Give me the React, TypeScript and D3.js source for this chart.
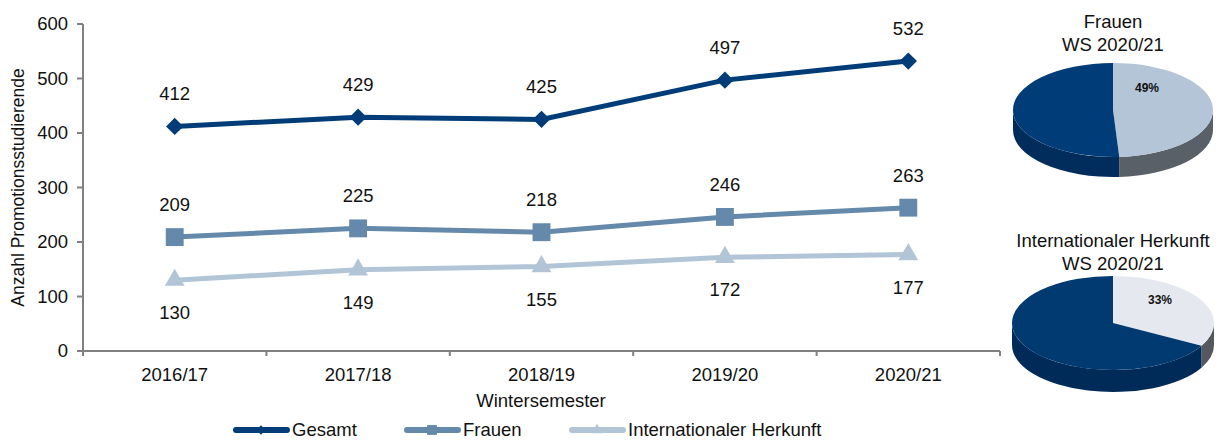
import * as d3 from "d3";

// data
const semesters = ["2016/17", "2017/18", "2018/19", "2019/20", "2020/21"];
const gesamt = [412, 429, 425, 497, 532];
const frauen = [209, 225, 218, 246, 263];
const international = [130, 149, 155, 172, 177];
const yTicks = [0, 100, 200, 300, 400, 500, 600];

const pieFrauen = [51, 49]; // rest, frauen
const pieInternational = [67, 33]; // rest, international

const FONT = "'Liberation Sans', Arial, sans-serif";
const FS = 18.5;

const x = d3.scalePoint<string>().domain(semesters).range([83, 1000]).padding(0.5);
const y = d3.scaleLinear().domain([0, 600]).range([351, 24]);
const step = x.step();

const series = [
  { name: "Gesamt", values: gesamt, color: "#003d78", marker: "diamond", labelPos: "above" },
  { name: "Frauen", values: frauen, color: "#6589aa", marker: "square", labelPos: "above" },
  { name: "Internationaler Herkunft", values: international, color: "#b2c5d6", marker: "triangle", labelPos: "below" },
];
const legendX = [233, 404, 569];

function markerPath(kind: string, scale = 1) {
  if (kind === "diamond") return d3.symbol(d3.symbolSquare, 150 * scale * scale)()!;
  if (kind === "square") return d3.symbol(d3.symbolSquare, 320 * scale * scale)()!;
  return d3.symbol(d3.symbolTriangle, 170 * scale * scale)()!;
}

function Pie3D(props: {
  cx: number; cy: number; rx: number; ry: number; depth: number;
  values: number[]; colors: string[]; sides: string[]; label: string; lx: number; ly: number;
  title: string[]; ty: number; lineGap: number;
}) {
  const { cx, cy, rx, ry, depth, values, colors, sides } = props;
  // clockwise from 12 o'clock; highlighted slice first
  const arcs = d3.pie<number>().sort(null).startAngle(0).endAngle(2 * Math.PI)([values[1], values[0]]);
  const arc = d3.arc<d3.PieArcDatum<number>>().innerRadius(0).outerRadius(rx);
  const pt = (a: number) => [cx + rx * Math.sin(a), cy - ry * Math.cos(a)];
  const sidePath = (a0: number, a1: number) => {
    const s = Math.max(a0, Math.PI / 2);
    const e = Math.min(a1, 1.5 * Math.PI);
    if (e <= s) return null;
    const [x0, y0] = pt(s);
    const [x1, y1] = pt(e);
    return `M${x0},${y0} A${rx},${ry} 0 0 1 ${x1},${y1} L${x1},${y1 + depth} A${rx},${ry} 0 0 0 ${x0},${y0 + depth} Z`;
  };
  const sideColors = [sides[1], sides[0]];
  const topColors = [colors[1], colors[0]];
  return (
    <g>
      {props.title.map((t, i) => (
        <text key={t} x={cx} y={props.ty + i * props.lineGap} textAnchor="middle" fontSize={FS} fontFamily={FONT} fill="#111">
          {t}
        </text>
      ))}
      {arcs.map((a, i) => {
        const p = sidePath(a.startAngle, a.endAngle);
        return p ? <path key={"s" + i} d={p} fill={sideColors[i]} /> : null;
      })}
      <g transform={`translate(${cx},${cy}) scale(1,${ry / rx})`}>
        {arcs.map((a, i) => (
          <path key={"t" + i} d={arc(a)!} fill={topColors[i]} />
        ))}
      </g>
      <text x={props.lx} y={props.ly} textAnchor="middle" fontSize={12} fontWeight="bold" fontFamily={FONT} fill="#111">
        {props.label}
      </text>
    </g>
  );
}

export default function App() {
  const line = d3.line<number>().x((_, i) => x(semesters[i])!).y((d) => y(d));
  const boundaries = d3.range(semesters.length + 1).map((i) => 83 + i * step);

  return (
    <svg width={1219} height={441} style={{ position: "absolute", left: 0, top: 0, background: "#fff" }}>
      {/* y axis */}
      <line x1={83} x2={83} y1={y(600)} y2={y(0)} stroke="#808080" strokeWidth={2} />
      {yTicks.map((t) => (
        <g key={t}>
          <line x1={77} x2={83} y1={y(t)} y2={y(t)} stroke="#808080" strokeWidth={2} />
          <text x={68} y={y(t)} dy="0.35em" textAnchor="end" fontSize={FS} fontFamily={FONT} fill="#111">
            {t}
          </text>
        </g>
      ))}
      <text
        transform={`translate(24,${(y(0) + y(600)) / 2}) rotate(-90)`}
        textAnchor="middle"
        fontSize={17.5}
        fontFamily={FONT}
        fill="#111"
      >
        Anzahl Promotionsstudierende
      </text>

      {/* x axis */}
      <line x1={83} x2={1000} y1={y(0)} y2={y(0)} stroke="#808080" strokeWidth={2} />
      {boundaries.map((b) => (
        <line key={b} x1={b} x2={b} y1={y(0)} y2={y(0) + 5} stroke="#808080" strokeWidth={2} />
      ))}
      {semesters.map((s) => (
        <text key={s} x={x(s)} y={381} textAnchor="middle" fontSize={FS} fontFamily={FONT} fill="#111">
          {s}
        </text>
      ))}
      <text x={541} y={407} textAnchor="middle" fontSize={FS} fontFamily={FONT} fill="#111">
        Wintersemester
      </text>

      {/* series */}
      {series.map((s) => (
        <g key={s.name}>
          <path d={line(s.values)!} fill="none" stroke={s.color} strokeWidth={5} />
          {s.values.map((v, i) => (
            <g key={i} transform={`translate(${x(semesters[i])},${y(v)})${s.marker === "diamond" ? " rotate(45)" : ""}`}>
              <path d={markerPath(s.marker)} fill={s.color} />
            </g>
          ))}
          {s.values.map((v, i) => (
            <text
              key={"l" + i}
              x={x(semesters[i])}
              y={s.labelPos === "above" ? y(v) - 26 : y(v) + 39}
              textAnchor="middle"
              fontSize={FS}
              fontFamily={FONT}
              fill="#111"
            >
              {v}
            </text>
          ))}
        </g>
      ))}

      {/* legend */}
      {series.map((s, i) => {
        const lx = legendX[i];
        return (
          <g key={"leg" + s.name}>
            <line x1={lx + 3} x2={lx + 54} y1={430} y2={430} stroke={s.color} strokeWidth={6} strokeLinecap="round" />
            <g transform={`translate(${lx + 28},430)${s.marker === "diamond" ? " rotate(45)" : ""}`}>
              <path d={markerPath(s.marker, 0.55)} fill={s.color} />
            </g>
            <text x={lx + 59} y={430} dy="0.35em" fontSize={FS} fontFamily={FONT} fill="#111">
              {s.name}
            </text>
          </g>
        );
      })}

      {/* pies */}
      <Pie3D
        cx={1113} cy={110} rx={100} ry={47} depth={20}
        values={pieFrauen}
        colors={["#003c77", "#b3c5d6"]}
        sides={["#002d5c", "#5a6068"]}
        label="49%" lx={1147} ly={92}
        title={["Frauen", "WS 2020/21"]} ty={28} lineGap={23}
      />
      <Pie3D
        cx={1113} cy={323} rx={101} ry={47} depth={22}
        values={pieInternational}
        colors={["#003a70", "#e5e9ef"]}
        sides={["#002b58", "#55595f"]}
        label="33%" lx={1160} ly={304}
        title={["Internationaler Herkunft", "WS 2020/21"]} ty={247} lineGap={23}
      />
    </svg>
  );
}
